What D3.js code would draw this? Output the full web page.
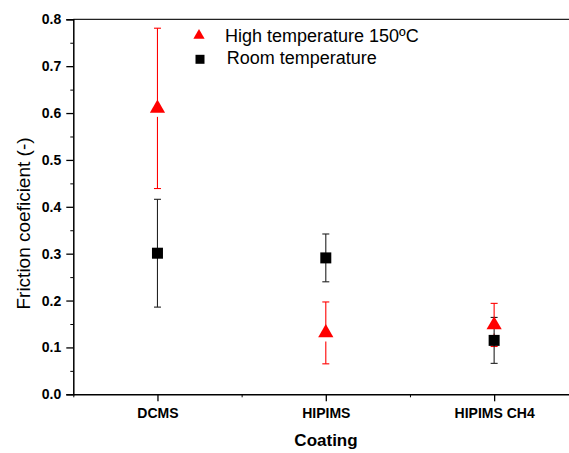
<!DOCTYPE html>
<html><head><meta charset="utf-8">
<script src="https://cdn.jsdelivr.net/npm/d3@7"></script>
<style>body{margin:0;background:#fff}svg{display:block;font-family:Arial,"Liberation Sans",sans-serif}</style>
</head><body>
<script>
const categories = ["DCMS", "HIPIMS", "HIPIMS CH4"];
const highTemp = [0.61, 0.131, 0.148];
const highTempErr = [0.171, 0.066, 0.046];
const roomTemp = [0.301, 0.291, 0.115];
const roomTempErr = [0.115, 0.051, 0.049];
const yTicks = [0, 0.1, 0.2, 0.3, 0.4, 0.5, 0.6, 0.7, 0.8];
const seriesNames = ["High temperature 150ºC", "Room temperature"];

const W = 569, H = 453;
const svg = d3.select("body").append("svg").attr("width", W).attr("height", H);
const x = d3.scaleLinear().domain([0.5, 3.5]).range([73.3, 578.3]);
const y = d3.scaleLinear().domain([0, 0.8]).range([394.3, 19.3]);

// top frame line
svg.append("line").attr("x1", x(0.5)).attr("x2", W).attr("y1", y(0.8)).attr("y2", y(0.8))
  .attr("stroke", "#222").attr("stroke-width", 1.3);

// Y axis
const yAx = svg.append("g").attr("transform", `translate(${x(0.5)},0)`)
  .call(d3.axisLeft(y).tickValues(yTicks).tickFormat(d3.format(".1f")).tickSizeOuter(0).tickSize(7).tickPadding(5));
yAx.selectAll("text").attr("font-size", 14).attr("font-weight", "bold").attr("fill", "#000").attr("font-family", "Arial, 'Liberation Sans', sans-serif");
yAx.select(".domain").attr("stroke-width", 1.5);
yAx.selectAll(".tick line").attr("stroke-width", 1.3);
const yMinor = svg.append("g").attr("transform", `translate(${x(0.5)},0)`)
  .call(d3.axisLeft(y).tickValues(d3.range(0.05, 0.8, 0.1)).tickFormat("").tickSize(3).tickSizeOuter(0));
yMinor.select(".domain").remove();

// X axis
const xAx = svg.append("g").attr("transform", `translate(0,${y(0)})`)
  .call(d3.axisBottom(x).tickValues([1, 2, 3]).tickFormat((d) => categories[d - 1]).tickSize(7).tickSizeOuter(0).tickPadding(7));
xAx.selectAll("text").attr("font-size", 14).attr("font-weight", "bold").attr("fill", "#000").attr("font-family", "Arial, 'Liberation Sans', sans-serif");
xAx.select(".domain").attr("stroke-width", 1.5);
xAx.selectAll(".tick line").attr("stroke-width", 1.3);
const xMinor = svg.append("g").attr("transform", `translate(0,${y(0)})`)
  .call(d3.axisBottom(x).tickValues([0.5, 1.5, 2.5, 3.5]).tickFormat("").tickSize(3).tickSizeOuter(0));
xMinor.select(".domain").remove();

// axis titles
svg.append("text").attr("x", 326).attr("y", 446).attr("text-anchor", "middle")
  .attr("font-size", 17).attr("font-weight", "bold").text("Coating");
svg.append("text").attr("transform", "translate(30,223.5) rotate(-90)").attr("text-anchor", "middle")
  .attr("font-size", 19).text("Friction coeficient (-)");

const capW = 3.5;
function errorBars(vals, errs, color, gap) {
  const g = svg.append("g").attr("stroke", color).attr("stroke-width", 1.1);
  vals.forEach((v, i) => {
    const cx = x(i + 1);
    g.append("line").attr("x1", cx).attr("x2", cx).attr("y1", y(v + errs[i])).attr("y2", y(v));
    g.append("line").attr("x1", cx).attr("x2", cx).attr("y1", Math.min(y(v) + gap, y(v - errs[i]))).attr("y2", y(v - errs[i]));
    [v + errs[i], v - errs[i]].forEach(e => {
      g.append("line").attr("x1", cx - capW).attr("x2", cx + capW).attr("y1", y(e)).attr("y2", y(e));
    });
  });
}
errorBars(highTemp, highTempErr, "#ff0000", 8.5);
errorBars(roomTemp, roomTempErr, "#222", 0);

const tri = d3.symbol().type(d3.symbolTriangle).size(100);
const sq = d3.symbol().type(d3.symbolSquare).size(121);
svg.append("g").selectAll("path").data(roomTemp).join("path")
  .attr("d", sq).attr("fill", "#000")
  .attr("transform", (d, i) => `translate(${x(i + 1)},${y(d)})`);
svg.append("g").selectAll("path").data(highTemp).join("path")
  .attr("d", tri).attr("fill", "#ff0000")
  .attr("transform", (d, i) => `translate(${x(i + 1)},${y(d)})`);

// legend
const leg = svg.append("g");
leg.append("path").attr("d", d3.symbol().type(d3.symbolTriangle).size(55)).attr("fill", "#ff0000")
  .attr("transform", "translate(199,35.5)");
leg.append("path").attr("d", d3.symbol().type(d3.symbolSquare).size(81)).attr("fill", "#000")
  .attr("transform", "translate(200,59.3)");
leg.append("text").attr("x", 225).attr("y", 41.7).attr("font-size", 18).text(seriesNames[0]);
leg.append("text").attr("x", 226.7).attr("y", 64.3).attr("font-size", 18).text(seriesNames[1]);
</script>
</body></html>
